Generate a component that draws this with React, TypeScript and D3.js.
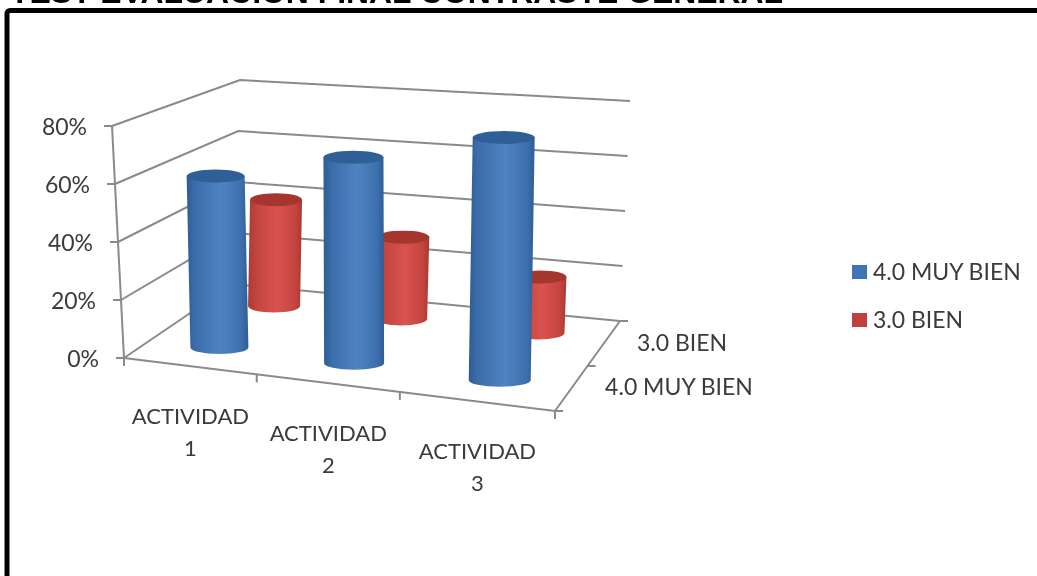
import React from "react";
import * as d3 from "d3";

const categories = ["ACTIVIDAD 1", "ACTIVIDAD 2", "ACTIVIDAD 3"];
const seriesNames = ["4.0 MUY BIEN", "3.0 BIEN"];
const blueValues = [60, 70, 80];
const redValues = [40, 30, 20];
const yTicks = [0, 20, 40, 60, 80];
const titleText = "TEST EVALUACION FINAL CONTRASTE GENERAL";

const FONT = "Lato, 'Open Sans', sans-serif";
const GRID = "#8a8a8a";
const TEXT = "#3a3a3a";

// 3D box corners, [x, y] at value 0 and at value 80
const FL = { b: [124, 358], t: [112, 126] };
const FR = { b: [555, 411], t: [560, 156] };
const BL = { b: [233, 284], t: [240, 80] };
const BR = { b: [620, 321], t: [630, 101] };

const uScale = d3.scaleLinear().domain([0, 1 / 3, 2 / 3, 1]).range([0, 0.308, 0.64, 1]);
const vScale = d3.scaleLinear().domain([0, 80]).range([0, 1]);
const depthBlue = 0.25;
const depthRed = 0.79;

function project(catPos: number, depth: number, value: number): [number, number] {
  const u = uScale(catPos);
  const v = vScale(value);
  const lerp = (a: number, b: number, t: number) => a + (b - a) * t;
  const corner = (c: { b: number[]; t: number[] }, i: number) => lerp(c.b[i], c.t[i], v);
  const at = (i: number) =>
    lerp(lerp(corner(FL, i), corner(FR, i), u), lerp(corner(BL, i), corner(BR, i), u), depth);
  return [at(0), at(1)];
}

const line = d3.line();

function Cylinder({ cat, shift, depth, value, w, ry, grad, top }: any) {
  const c = (cat + 0.5) / categories.length + shift;
  const [bx, by] = project(c, depth, 0);
  const [tx, ty] = project(c, depth, value);
  const rx = w / 2;
  const d = `M${tx - rx},${ty} L${bx - rx},${by} A${rx},${ry} 0 0 0 ${bx + rx},${by} L${tx + rx},${ty} Z`;
  return (
    <g>
      <path d={d} fill={`url(#${grad})`} />
      <ellipse cx={tx} cy={ty} rx={rx} ry={ry} fill={top} />
    </g>
  );
}

function Tick({ p, dx, dy }: any) {
  return <line x1={p[0]} y1={p[1]} x2={p[0] + dx} y2={p[1] + dy} stroke={GRID} strokeWidth={2} />;
}

export default function App() {
  const frontTicks = [0, 1 / 3, 2 / 3, 1];
  return (
    <svg
      width={1037}
      height={576}
      viewBox="0 0 1037 576"
      style={{ position: "absolute", left: 0, top: 0, display: "block", background: "#fff" }}
    >
      <defs>
        <filter id="soft" x="-5%" y="-5%" width="110%" height="110%">
          <feGaussianBlur stdDeviation="0.6" />
        </filter>
        <linearGradient id="gBlue" x1="0" x2="1" y1="0" y2="0">
          <stop offset="0" stopColor="#2c5c94" />
          <stop offset="0.12" stopColor="#3a6ca8" />
          <stop offset="0.55" stopColor="#4f83c2" />
          <stop offset="0.88" stopColor="#3d70ad" />
          <stop offset="1" stopColor="#2d5d96" />
        </linearGradient>
        <linearGradient id="gRed" x1="0" x2="1" y1="0" y2="0">
          <stop offset="0" stopColor="#ad3a36" />
          <stop offset="0.15" stopColor="#c2443f" />
          <stop offset="0.55" stopColor="#d9534e" />
          <stop offset="0.88" stopColor="#c4443f" />
          <stop offset="1" stopColor="#a93733" />
        </linearGradient>
      </defs>

      <g filter="url(#soft)">
        <text
          x={10}
          y={3}
          fontFamily="'Liberation Sans', Arial, sans-serif"
          fontWeight="bold"
          fontSize={31.9}
          fill="#000"
        >
          {titleText}
        </text>
        <rect x={7} y={10.5} width={1060} height={600} rx={3} fill="none" stroke="#000" strokeWidth={5} />

        {yTicks.map((t) => {
          const a = project(0, 0, t);
          const b = project(0, 1, t);
          const c = project(1, 1, t);
          return (
            <g key={t}>
              <path d={line([a, b, c]) as string} fill="none" stroke={GRID} strokeWidth={2} />
              <Tick p={a} dx={-8} dy={0} />
              <text
                x={a[0] - 25}
                y={a[1] + 9}
                textAnchor="end"
                fontFamily={FONT}
                fontSize={23}
                fill={TEXT}
              >
                {t}%
              </text>
            </g>
          );
        })}
        <path d={line([project(0, 0, 0), project(0, 0, 80)]) as string} stroke={GRID} strokeWidth={2} fill="none" />
        <path
          d={line([project(0, 0, 0), project(1, 0, 0), project(1, 1, 0)]) as string}
          stroke={GRID}
          strokeWidth={2}
          fill="none"
        />
        {frontTicks.map((t) => (
          <Tick key={t} p={project(t, 0, 0)} dx={0} dy={8} />
        ))}
        <Tick p={project(1, 0, 0)} dx={8} dy={0} />
        <Tick p={project(1, 0.5, 0)} dx={8} dy={0} />
        <Tick p={project(1, 1, 0)} dx={8} dy={0} />

        {redValues.map((v, i) => (
          <Cylinder key={i} cat={i} shift={0.008} depth={depthRed} value={v} w={52} ry={6.5} grad="gRed" top="#a6342f" />
        ))}
        {blueValues.map((v, i) => (
          <Cylinder key={i} cat={i} shift={0.009} depth={depthBlue} value={v} w={58 + i * 2} ry={6.5} grad="gBlue" top="#2f6197" />
        ))}

        {categories.map((cat, i) => {
          const p = project((i + 0.5) / categories.length, 0, 0);
          const [word, num] = cat.split(" ");
          return (
            <text key={cat} textAnchor="middle" fontFamily={FONT} fontSize={22} fill={TEXT}>
              <tspan x={p[0]} y={p[1] + 58}>{word}</tspan>
              <tspan x={p[0]} y={p[1] + 90}>{num}</tspan>
            </text>
          );
        })}

        <text x={682} y={351} textAnchor="middle" fontFamily={FONT} fontSize={23} fill={TEXT}>
          {seriesNames[1]}
        </text>
        <text x={679} y={395} textAnchor="middle" fontFamily={FONT} fontSize={23} fill={TEXT}>
          {seriesNames[0]}
        </text>

        {seriesNames.map((s, i) => (
          <g key={s}>
            <rect x={852} y={265 + i * 48} width={15} height={14} fill={i === 0 ? "#3f74b5" : "#c0413c"} />
            <text x={873} y={280 + i * 48} fontFamily={FONT} fontSize={23} fill={TEXT}>
              {s}
            </text>
          </g>
        ))}
      </g>
    </svg>
  );
}
